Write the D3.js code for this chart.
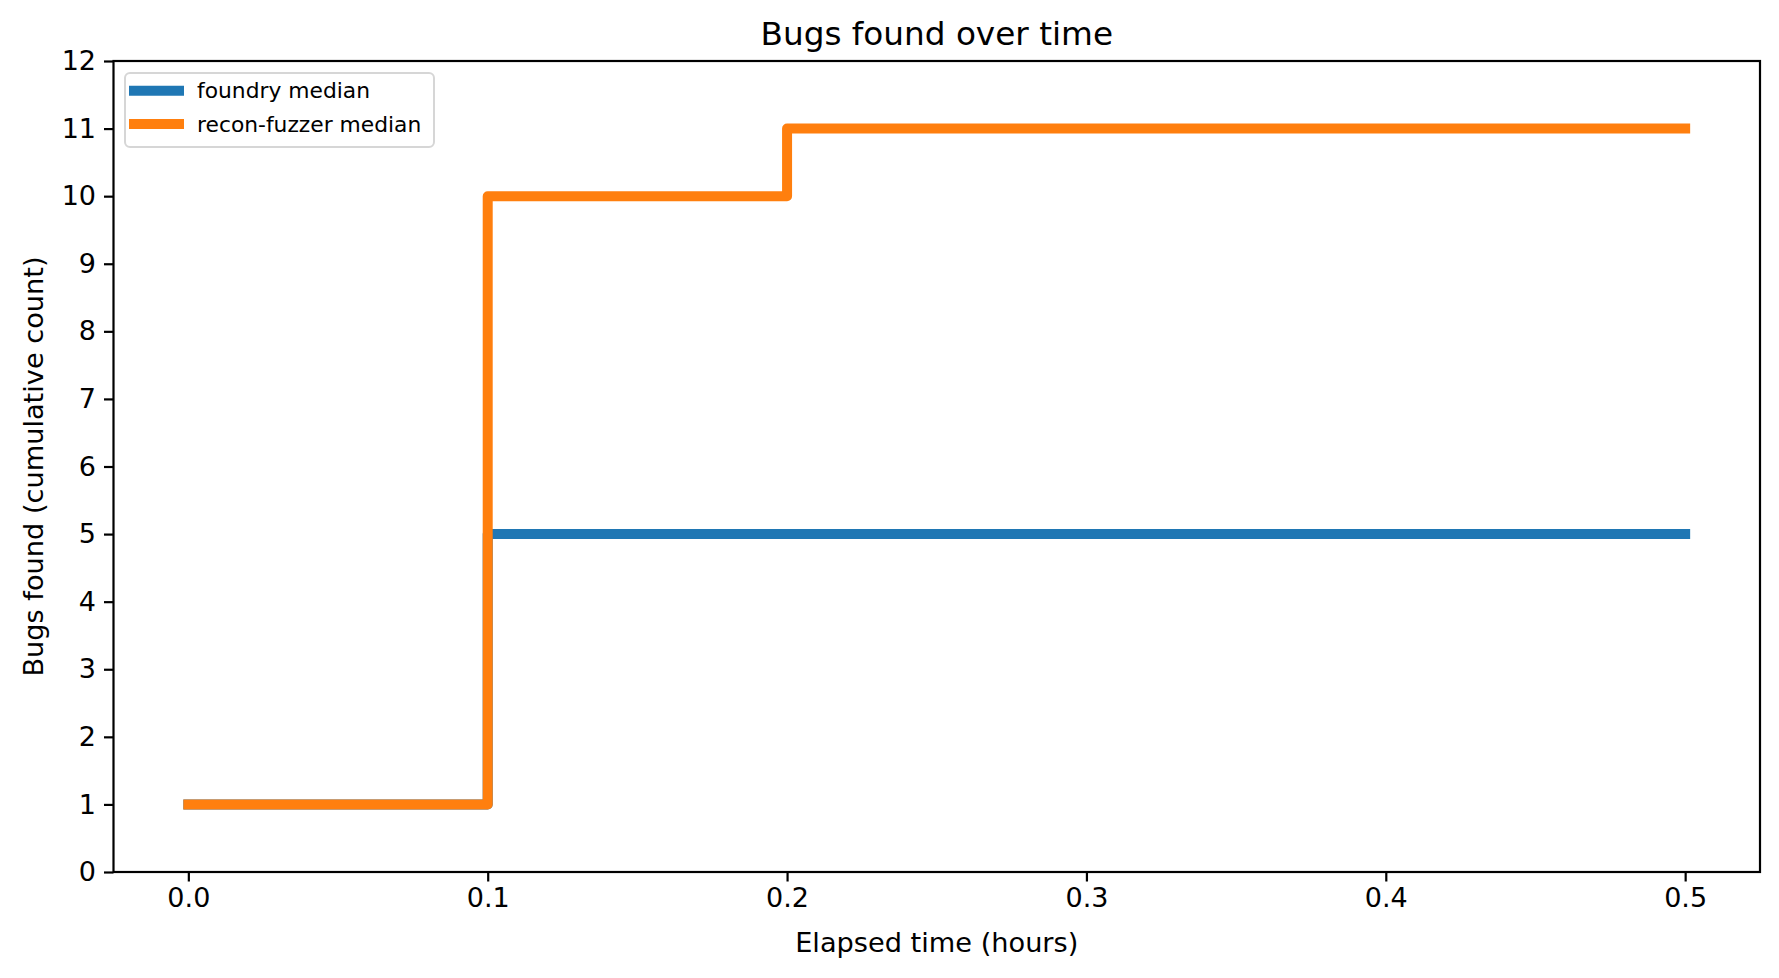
<!DOCTYPE html>
<html>
<head>
<meta charset="utf-8">
<script src="https://cdn.jsdelivr.net/npm/d3@7"></script>
<style>
  body { margin: 0; background: #fff; }
  text { font-family: "DejaVu Sans", sans-serif; fill: #000; }
</style>
</head>
<body>
<script>
// data
var times = [0, 0.1, 0.2, 0.5];
var foundryMedian = [1, 5, 5, 5];
var reconMedian = [1, 10, 11, 11];
var seriesNames = ["foundry median", "recon-fuzzer median"];
var seriesColors = ["#1f77b4", "#ff7f0e"];
var xTicks = [0, 0.1, 0.2, 0.3, 0.4, 0.5];
var yTicks = [0, 1, 2, 3, 4, 5, 6, 7, 8, 9, 10, 11, 12];

function drawChart() {
    var width = 1779, height = 978;
    var plotLeft = 113.5, plotRight = 1760, plotTop = 61, plotBottom = 872;

    var svg = d3.select('body').append('svg')
        .attr('width', width).attr('height', height);

    var xScale = d3.scaleLinear().domain([-0.025, 0.525]).range([plotLeft, plotRight]);
    var yScale = d3.scaleLinear().domain([0, 12]).range([plotBottom, plotTop]);

    // build rows for each series
    var series = [foundryMedian, reconMedian].map(function(vals, i) {
        return {
            name: seriesNames[i],
            color: seriesColors[i],
            pts: times.map(function(t, j) { return { t: t, v: vals[j] }; })
        };
    });

    var stepLine = d3.line()
        .x(function(d) { return xScale(d.t); })
        .y(function(d) { return yScale(d.v); })
        .curve(d3.curveStepAfter);

    svg.append('g').selectAll('path').data(series)
        .enter().append('path')
        .attr('fill', 'none')
        .attr('stroke', function(d) { return d.color; })
        .attr('stroke-width', 10)
        .attr('stroke-linecap', 'square')
        .attr('stroke-linejoin', 'round')
        .attr('d', function(d) { return stepLine(d.pts); });

    // axes
    var xAxis = svg.append('g')
        .attr('transform', 'translate(0,' + plotBottom + ')')
        .call(d3.axisBottom(xScale).tickValues(xTicks).tickFormat(d3.format('.1f'))
            .tickSize(9.5).tickPadding(6).tickSizeOuter(0));
    var yAxis = svg.append('g')
        .attr('transform', 'translate(' + plotLeft + ',0)')
        .call(d3.axisLeft(yScale).tickValues(yTicks).tickFormat(d3.format('d'))
            .tickSize(9.5).tickPadding(8).tickSizeOuter(0));

    [xAxis, yAxis].forEach(function(ax) {
        ax.select('.domain').remove();
        ax.selectAll('.tick line').attr('stroke', '#000').attr('stroke-width', 2.2);
        ax.selectAll('.tick text')
            .attr('font-family', '"DejaVu Sans", sans-serif')
            .attr('font-size', 27).attr('fill', '#000');
    });

    // frame
    svg.append('rect')
        .attr('x', plotLeft).attr('y', plotTop)
        .attr('width', plotRight - plotLeft).attr('height', plotBottom - plotTop)
        .attr('fill', 'none').attr('stroke', '#000').attr('stroke-width', 2.2);

    // titles
    svg.append('text')
        .attr('x', (plotLeft + plotRight) / 2).attr('y', 45)
        .attr('text-anchor', 'middle').attr('font-size', 32.7)
        .text('Bugs found over time');
    svg.append('text')
        .attr('x', (plotLeft + plotRight) / 2).attr('y', 952)
        .attr('text-anchor', 'middle').attr('font-size', 27.2)
        .text('Elapsed time (hours)');
    svg.append('text')
        .attr('transform', 'translate(43,' + (plotTop + plotBottom) / 2 + ') rotate(-90)')
        .attr('text-anchor', 'middle').attr('font-size', 27.2)
        .text('Bugs found (cumulative count)');

    // legend
    var legend = svg.append('g');
    legend.append('rect')
        .attr('x', 125).attr('y', 73).attr('width', 309).attr('height', 74)
        .attr('rx', 5).attr('fill', '#fff').attr('fill-opacity', 0.8)
        .attr('stroke', '#d6d6d6').attr('stroke-width', 2);
    var items = legend.selectAll('g.item').data(series).enter()
        .append('g').attr('class', 'item')
        .attr('transform', function(d, i) { return 'translate(0,' + (90.7 + i * 33.3) + ')'; });
    items.append('line')
        .attr('x1', 129).attr('x2', 184)
        .attr('stroke', function(d) { return d.color; })
        .attr('stroke-width', 10);
    items.append('text')
        .attr('x', 197).attr('y', 7.5)
        .attr('font-size', 21.8)
        .text(function(d) { return d.name; });
}

drawChart();
</script>
</body>
</html>
